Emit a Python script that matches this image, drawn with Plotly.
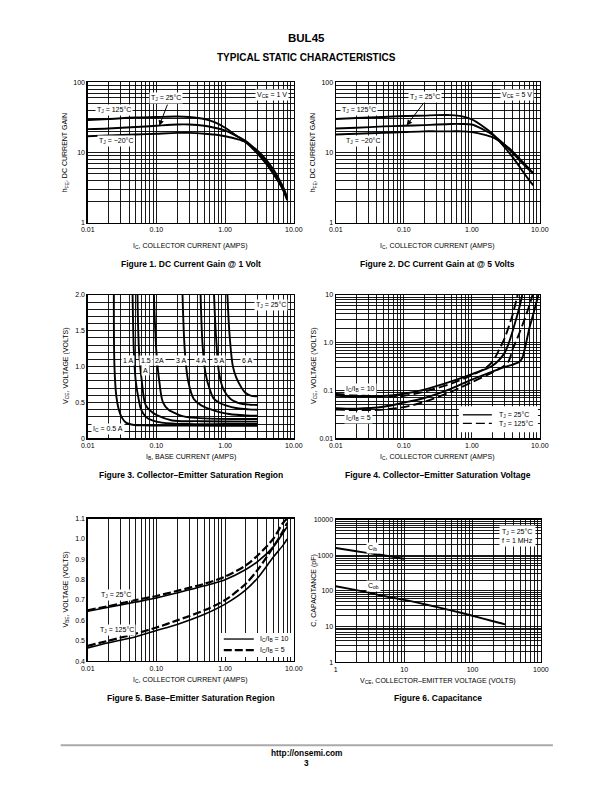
import math
import plotly.graph_objects as go

W, H = 612, 792
FONT = "Liberation Sans, Arial, Helvetica, sans-serif"

# ---------------- data ----------------
# Figure 1: hFE vs IC @ VCE = 1 V
fig1_ic = [0.01, 0.02, 0.05, 0.1, 0.2, 0.3, 0.5, 0.7, 1.0, 1.5, 2.0, 3.0, 4.0, 5.0, 6.0, 7.0, 8.0]
fig1_h125 = [29, 30, 31.5, 32, 32.5, 32, 30, 27, 22.5, 17, 14, 9.5, 6.8, 5.0, 3.8, 2.9, 2.1]
fig1_h25 = [21.5, 22, 23, 24, 25, 25, 24, 22.5, 20.5, 17, 14.5, 10, 7.2, 5.3, 4.0, 3.0, 2.2]
fig1_hm20 = [17, 17.5, 18, 18.5, 19, 19, 18.5, 18, 17, 15.5, 14, 10.5, 7.8, 5.8, 4.3, 3.2, 2.3]

# Figure 2: hFE vs IC @ VCE = 5 V
fig2_ic = [0.01, 0.02, 0.05, 0.1, 0.2, 0.3, 0.5, 0.7, 1.0, 1.5, 2.0, 3.0, 4.0, 5.0, 6.0, 7.0, 8.0]
fig2_h125 = [30, 31, 32, 33, 33.5, 34, 34, 33, 29.5, 23, 18.5, 12, 8.5, 6.3, 4.9, 4.0, 3.4]
fig2_h25 = [22, 22.5, 23.5, 24, 24.5, 25, 25.5, 25.5, 25, 21, 18, 13, 9.8, 7.8, 6.5, 5.6, 5.0]
fig2_hm20 = [18, 18.5, 19, 19.5, 20, 20, 20, 20, 19.5, 18, 16.5, 13, 10.3, 8.2, 6.8, 5.8, 5.1]

# Figure 3: VCE vs IB for several IC values (TJ = 25 C)
fig3_ib = [
    [0.024, 0.0245, 0.026, 0.028, 0.031, 0.036, 0.045, 0.08, 0.3, 1.0, 3.0],
    [0.045, 0.047, 0.05, 0.055, 0.06, 0.07, 0.087, 0.12, 0.27, 1.0, 3.0],
    [0.053, 0.056, 0.062, 0.07, 0.085, 0.103, 0.17, 0.4, 1.0, 3.0],
    [0.092, 0.1, 0.11, 0.125, 0.15, 0.18, 0.24, 0.33, 0.6, 1.5, 3.0],
    [0.24, 0.26, 0.29, 0.35, 0.45, 0.59, 0.8, 1.14, 2.0, 3.0],
    [0.44, 0.47, 0.52, 0.6, 0.69, 0.85, 1.02, 1.5, 2.2, 3.0],
    [0.69, 0.74, 0.82, 0.95, 1.2, 1.5, 1.8, 2.3, 3.0],
    [1.08, 1.17, 1.3, 1.45, 1.7, 1.95, 2.35, 3.0],
]
fig3_vce = [
    [2.0, 1.0, 0.6, 0.42, 0.3, 0.22, 0.19, 0.18, 0.178, 0.177, 0.177],
    [2.0, 1.2, 0.8, 0.55, 0.4, 0.3, 0.25, 0.22, 0.2, 0.2, 0.2],
    [2.0, 1.2, 0.75, 0.46, 0.37, 0.32, 0.25, 0.24, 0.235, 0.233],
    [2.0, 1.2, 0.8, 0.5, 0.4, 0.36, 0.31, 0.29, 0.275, 0.27, 0.27],
    [2.0, 1.2, 0.8, 0.55, 0.46, 0.41, 0.37, 0.34, 0.32, 0.317],
    [2.0, 1.3, 0.9, 0.68, 0.55, 0.49, 0.46, 0.42, 0.405, 0.40],
    [2.0, 1.4, 0.9, 0.68, 0.55, 0.5, 0.48, 0.47, 0.466],
    [2.0, 1.4, 1.0, 0.85, 0.72, 0.64, 0.595, 0.587],
]

# Figure 4: VCE(sat) vs IC  (s = 25 C solid, d = 125 C dashed; 10 / 5 = IC/IB)
fig4_ic_s10 = [0.01, 0.02, 0.05, 0.1, 0.2, 0.5, 1, 2, 3, 3.5, 4, 4.5, 5, 5.5]
fig4_v_s10 = [0.078, 0.075, 0.077, 0.086, 0.105, 0.155, 0.22, 0.33, 0.6, 1.0, 1.8, 3.2, 5.5, 10]
fig4_ic_d10 = [0.01, 0.02, 0.05, 0.1, 0.2, 0.5, 1, 1.5, 2, 2.5, 3, 3.5, 4, 4.7]
fig4_v_d10 = [0.085, 0.08, 0.075, 0.078, 0.095, 0.14, 0.21, 0.28, 0.4, 0.7, 1.2, 2.2, 4.0, 10]
fig4_ic_s5 = [0.01, 0.02, 0.05, 0.1, 0.2, 0.5, 1, 2, 3, 4, 5, 5.5, 6, 7, 8, 8.5, 9.5]
fig4_v_s5 = [0.043, 0.042, 0.046, 0.056, 0.07, 0.11, 0.17, 0.25, 0.31, 0.35, 0.4, 0.48, 0.75, 2.0, 4.0, 5.5, 10]
fig4_ic_d5 = [0.01, 0.02, 0.05, 0.1, 0.2, 0.5, 1, 2, 3, 3.5, 4, 4.5, 5, 6, 7, 7.8]
fig4_v_d5 = [0.04, 0.039, 0.04, 0.045, 0.058, 0.095, 0.15, 0.24, 0.33, 0.42, 0.75, 1.1, 1.6, 3.2, 6.0, 10]

# Figure 5: VBE(sat) vs IC
fig5_ic = [0.01, 0.02, 0.05, 0.1, 0.2, 0.5, 1, 2, 3, 5, 7, 8]
fig5_v25_10 = [0.645, 0.665, 0.69, 0.71, 0.735, 0.77, 0.80, 0.85, 0.89, 0.96, 1.03, 1.06]
fig5_v25_5 = [0.65, 0.67, 0.70, 0.72, 0.745, 0.78, 0.815, 0.87, 0.92, 1.0, 1.08, 1.1]
fig5_v125_10 = [0.465, 0.49, 0.52, 0.55, 0.58, 0.63, 0.68, 0.75, 0.81, 0.91, 0.97, 1.0]
fig5_v125_5 = [0.475, 0.50, 0.535, 0.565, 0.60, 0.65, 0.70, 0.78, 0.85, 0.96, 1.04, 1.08]

# Figure 6: Capacitance vs VCE
fig6_v_cib = [1, 2, 3, 5, 8, 10]
fig6_cib = [1600, 1300, 1150, 1000, 850, 800]
fig6_v_cob = [1, 2, 3, 5, 10, 20, 50, 100, 200, 300]
fig6_cob = [135, 105, 90, 72, 56, 42, 28, 20, 14, 11.5]

# arrow targets (point on the 25 C curve that the label arrow touches)
fig1_arrow_pt = (0.11, 24.0)
fig2_arrow_pt = (0.11, 24.3)

# tick labels
tick_ic = ["0.01", "0.10", "1.00", "10.00"]
tick_hfe = ["1", "10", "100"]
tick_vce3 = ["0", "0.5", "1.0", "1.5", "2.0"]
tick_vce4 = ["0.01", "0.1", "1.0", "10"]
tick_vbe = ["0.4", "0.5", "0.6", "0.7", "0.8", "0.9", "1.0", "1.1"]
tick_v6 = ["1", "10", "100", "1000"]
tick_c6 = ["1", "10", "100", "1000", "10000"]

# ---------------- layout helpers ----------------
# page positions below were measured on the reference; this maps them to figure pixels
def tx(x):
    return (x - 6.3) / 0.9735

def ty(y):
    return (y - 5.0) / 0.988

def px(x):
    return tx(x) / W

def py(y):
    return 1 - ty(y) / H

# plot frames in (measured) page pixels: (left, top, right, bottom)
frames = {
    1: (87, 83, 293, 223),
    2: (335, 83, 539, 223),
    3: (87, 295, 293, 438),
    4: (335, 295, 539, 438),
    5: (87, 518, 293, 660),
    6: (335, 519, 540, 661),
}

SMALL = 7
GRID = dict(showgrid=True, gridcolor="black", gridwidth=0.9)
TICKFONT = dict(family=FONT, size=SMALL, color="black")

def log_axis(domain, d0, d1, major_text, anchor):
    majors = [10 ** d for d in range(d0, d1 + 1)]
    minors = [m * 10 ** d for d in range(d0, d1) for m in range(2, 10)]
    return dict(type="log", domain=domain, range=[d0, d1], tickmode="array",
                tickvals=majors, ticktext=major_text, ticks="", zeroline=False,
                showline=True, linecolor="black", linewidth=1.3, mirror=True,
                anchor=anchor, tickfont=TICKFONT, **GRID,
                minor=dict(tickmode="array", tickvals=minors, ticks="", **GRID))

def lin_axis(domain, r, tick_vals, tick_text, minor_vals, anchor, grid=True):
    ax = dict(type="linear", domain=domain, range=r, tickmode="array",
              tickvals=tick_vals, ticktext=tick_text, ticks="", zeroline=False,
              showline=True, linecolor="black", linewidth=1.3, mirror=True,
              anchor=anchor, tickfont=TICKFONT)
    if grid:
        ax.update(GRID)
        ax["minor"] = dict(tickmode="array", tickvals=minor_vals, ticks="", **GRID)
    else:
        ax["showgrid"] = False
    return ax

def xdom(i):
    l, t, r, b = frames[i]
    return [px(l), px(r)]

def ydom(i):
    l, t, r, b = frames[i]
    return [py(b), py(t)]

fig = go.Figure()
LW = 1.9

def line(x, y, i, dash="solid", width=LW, smooth=0.8):
    fig.add_trace(go.Scatter(x=x, y=y, mode="lines", xaxis="x%d" % i if i > 1 else "x",
                             yaxis="y%d" % i if i > 1 else "y",
                             line=dict(color="black", width=width, dash=dash, shape="spline",
                                       smoothing=smooth),
                             showlegend=False, hoverinfo="skip"))

for h in (fig1_h125, fig1_h25, fig1_hm20):
    line(fig1_ic, h, 1)
for h in (fig2_h125, fig2_h25, fig2_hm20):
    line(fig2_ic, h, 2)
for xs, ys in zip(fig3_ib, fig3_vce):
    line(xs, ys, 3, smooth=1.0)
line(fig4_ic_s10, fig4_v_s10, 4)
line(fig4_ic_d10, fig4_v_d10, 4, dash="9px,4px")
line(fig4_ic_s5, fig4_v_s5, 4)
line(fig4_ic_d5, fig4_v_d5, 4, dash="9px,4px")
line(fig5_ic, fig5_v25_10, 5, width=1.6)
line(fig5_ic, fig5_v25_5, 5, dash="8px,3px", width=2.2)
line(fig5_ic, fig5_v125_10, 5, width=1.6)
line(fig5_ic, fig5_v125_5, 5, dash="8px,3px", width=2.2)
line(fig6_v_cib, fig6_cib, 6)
line(fig6_v_cob, fig6_cob, 6)

layout = dict(width=W, height=H, margin=dict(l=0, r=0, t=0, b=0),
              paper_bgcolor="white", plot_bgcolor="white", showlegend=False,
              hovermode=False, dragmode=False,
              font=dict(family=FONT, color="black"))

layout["xaxis"] = log_axis(xdom(1), -2, 1, tick_ic, "y")
layout["yaxis"] = log_axis(ydom(1), 0, 2, tick_hfe, "x")
layout["xaxis2"] = log_axis(xdom(2), -2, 1, tick_ic, "y2")
layout["yaxis2"] = log_axis(ydom(2), 0, 2, tick_hfe, "x2")
layout["xaxis3"] = log_axis(xdom(3), -2, 1, tick_ic, "y3")
layout["yaxis3"] = lin_axis(ydom(3), [0, 2.0], [0, 0.5, 1.0, 1.5, 2.0], tick_vce3,
                            [k / 10 for k in range(0, 21) if k % 5], "x3")
layout["xaxis4"] = log_axis(xdom(4), -2, 1, tick_ic, "y4")
layout["yaxis4"] = log_axis(ydom(4), -2, 1, tick_vce4, "x4")
layout["xaxis5"] = log_axis(xdom(5), -2, 1, tick_ic, "y5")
layout["yaxis5"] = lin_axis(ydom(5), [0.4, 1.1], [k / 10 for k in range(4, 12)], tick_vbe,
                            [], "x5", grid=False)
layout["xaxis6"] = log_axis(xdom(6), 0, 3, tick_v6, "y6")
layout["yaxis6"] = log_axis(ydom(6), 0, 4, tick_c6, "x6")

ann = []

def page_text(x, y, text, size=SMALL, bold=False, angle=0, anchor="center"):
    if bold:
        text = "<b>" + text + "</b>"
    ann.append(dict(x=px(x), y=py(y), xref="paper", yref="paper", text=text,
                    showarrow=False, textangle=angle, xanchor=anchor, yanchor="middle",
                    font=dict(family=FONT, size=size, color="black")))

def box_text(x, y, text, size=SMALL, anchor="center"):
    ann.append(dict(x=px(x), y=py(y), xref="paper", yref="paper", text=text,
                    showarrow=False, xanchor=anchor, yanchor="middle", bgcolor="white",
                    borderpad=1, font=dict(family=FONT, size=size, color="black")))

# header / footer
page_text(306, 38.5, "BUL45", size=11.5, bold=True)
page_text(306, 58, "TYPICAL STATIC CHARACTERISTICS", size=10, bold=True)
page_text(306, 752, "http://onsemi.com", size=8.3, bold=True)
page_text(306, 762, "3", size=8.3, bold=True)

# captions
CAP = 8.5
page_text(190, 264.5, "Figure 1. DC Current Gain @ 1 Volt", size=CAP, bold=True)
page_text(437, 264.5, "Figure 2. DC Current Gain at @ 5 Volts", size=CAP, bold=True)
page_text(190, 474, "Figure 3. Collector\u2013Emitter Saturation Region", size=CAP, bold=True)
page_text(437, 474, "Figure 4. Collector\u2013Emitter Saturation Voltage", size=CAP, bold=True)
page_text(190, 697, "Figure 5. Base\u2013Emitter Saturation Region", size=CAP, bold=True)
page_text(437, 697, "Figure 6. Capacitance", size=CAP, bold=True)

# axis titles
XT = "I<sub>C</sub>, COLLECTOR CURRENT (AMPS)"
page_text(190, 246, XT)
page_text(437, 246, XT)
page_text(190, 457, "I<sub>B</sub>, BASE CURRENT (AMPS)")
page_text(437, 457, XT)
page_text(190, 679, XT)
page_text(437, 680, "V<sub>CE</sub>, COLLECTOR\u2013EMITTER VOLTAGE (VOLTS)")
page_text(65, 153, "h<sub>FE</sub>, DC CURRENT GAIN", angle=-90)
page_text(313, 153, "h<sub>FE</sub>, DC CURRENT GAIN", angle=-90)
page_text(65, 366, "V<sub>CE</sub>, VOLTAGE (VOLTS)", angle=-90)
page_text(313, 366, "V<sub>CE</sub>, VOLTAGE (VOLTS)", angle=-90)
page_text(65, 589, "V<sub>BE</sub>, VOLTAGE (VOLTS)", angle=-90)
page_text(313, 590, "C, CAPACITANCE (pF)", angle=-90)

# in-plot labels fig 1 / 2
box_text(113, 111, "T<sub>J</sub> = 125\u00b0C")
box_text(165, 99, "T<sub>J</sub> = 25\u00b0C")
box_text(115, 142, "T<sub>J</sub> = \u221220\u00b0C")
box_text(271, 96, "V<sub>CE</sub> = 1 V")
box_text(358, 111, "T<sub>J</sub> = 125\u00b0C")
box_text(424, 98, "T<sub>J</sub> = 25\u00b0C")
box_text(362, 142, "T<sub>J</sub> = \u221220\u00b0C")
box_text(516, 96, "V<sub>CE</sub> = 5 V")

def data_to_fig_log(i, xv, yv, xd, yd):
    l, t, r, b = frames[i]
    l, r, t, b = tx(l), tx(r), ty(t), ty(b)
    X = l + (math.log10(xv) - xd[0]) / (xd[1] - xd[0]) * (r - l)
    Y = b - (math.log10(yv) - yd[0]) / (yd[1] - yd[0]) * (b - t)
    return X, Y

for i, pt, tail, xr, yr in ((1, fig1_arrow_pt, (167, 104), "x", "y"),
                            (2, fig2_arrow_pt, (423, 103), "x2", "y2")):
    hx, hy = data_to_fig_log(i, pt[0], pt[1], (-2, 1), (0, 2))
    ann.append(dict(x=math.log10(pt[0]), y=math.log10(pt[1]), xref=xr, yref=yr,
                    ax=tx(tail[0]) - hx, ay=ty(tail[1]) - hy, axref="pixel", ayref="pixel",
                    text="", showarrow=True, arrowhead=2, arrowsize=1.1,
                    arrowwidth=1, arrowcolor="black"))

# fig 3 labels
box_text(270, 305, "T<sub>J</sub> = 25\u00b0C")
box_text(127, 360, "1 A")
box_text(145, 360, "1.5")
box_text(145, 370, "A")
box_text(159, 360, "2A")
box_text(180, 360, "3 A")
box_text(200, 360, "4 A")
box_text(218, 360, "5 A")
box_text(246, 360, "6 A")
box_text(107, 429, "I<sub>C</sub> = 0.5 A")

# fig 4 labels
box_text(360, 389, "I<sub>C</sub>/I<sub>B</sub> = 10")
box_text(358, 418, "I<sub>C</sub>/I<sub>B</sub> = 5")

# fig 5 labels
box_text(115, 594, "T<sub>J</sub> = 25\u00b0C")
box_text(116, 629, "T<sub>J</sub> = 125\u00b0C")

# fig 6 labels
box_text(372, 547, "C<sub>ib</sub>")
box_text(373, 585, "C<sub>ob</sub>")
ann.append(dict(x=px(517), y=py(535), xref="paper", yref="paper",
                text="T<sub>J</sub> = 25\u00b0C<br>f = 1 MHz", showarrow=False, align="left",
                xanchor="center", yanchor="middle", bgcolor="white", borderpad=2,
                font=dict(family=FONT, size=SMALL, color="black")))

shapes = []
def white_rect(x0, y0, x1, y1):
    shapes.append(dict(type="rect", xref="paper", yref="paper", x0=px(x0), x1=px(x1),
                       y0=py(y1), y1=py(y0), fillcolor="white", line=dict(width=0), layer="above"))

def key_line(x0, x1, y, dash, width):
    shapes.append(dict(type="line", xref="paper", yref="paper", x0=px(x0), x1=px(x1),
                       y0=py(y), y1=py(y), line=dict(color="black", width=width, dash=dash),
                       layer="above"))

white_rect(458, 406, 537, 432)
key_line(462, 491, 414.5, "solid", 1.3)
key_line(462, 491, 423, "9px,4px", 1.3)
white_rect(220, 632, 291, 656)
key_line(223, 253, 638, "solid", 1.3)
key_line(223, 253, 649, "8px,3px", 2.2)

page_text(496, 414.5, "T<sub>J</sub> = 25\u00b0C", anchor="left")
page_text(496, 423.5, "T<sub>J</sub> = 125\u00b0C", anchor="left")
page_text(257, 638, "I<sub>C</sub>/I<sub>B</sub> = 10", anchor="left")
page_text(257, 649, "I<sub>C</sub>/I<sub>B</sub> = 5", anchor="left")

# footer rule
shapes.append(dict(type="line", xref="paper", yref="paper", x0=px(60), x1=px(552),
                   y0=py(744), y1=py(744), line=dict(color="#aaaaaa", width=2)))

layout["annotations"] = ann
layout["shapes"] = shapes
fig.update_layout(**layout)

# remove the browser's default page margin so the 612x792 figure fills the window exactly
POST = ("document.documentElement.style.margin='0';document.body.style.margin='0';"
        "document.body.style.overflow='hidden';document.documentElement.style.overflow='hidden';")
fig.write_html("out.html", post_script=POST,
               config={"displayModeBar": False, "staticPlot": True})
